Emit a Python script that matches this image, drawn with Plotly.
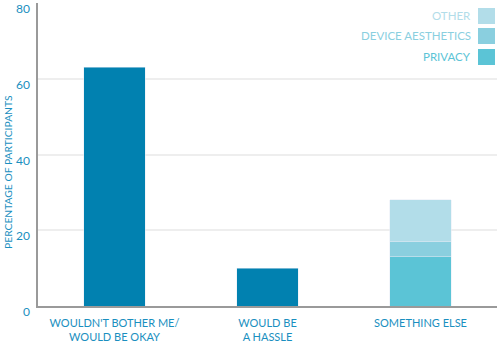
import plotly.graph_objects as go

categories = ["WOULDN'T BOTHER ME/<br>WOULD BE OKAY", "WOULD BE<br>A HASSLE", "SOMETHING ELSE"]
main_values = [63, 10, None]
privacy = [None, None, 13]
device_aesthetics = [None, None, 4]
other = [None, None, 11]
y_ticks = [0, 20, 40, 60, 80]

MAIN = "#0181b0"
C_PRIV = "#5bc4d6"
C_DEV = "#8acfdf"
C_OTH = "#b2dde9"
TXT = "#1a8fc0"
FONT = "Lato"

L, R, T, B = 38, 3, 3, 49
W, Hh = 500, 355
PW = W - L - R
PH = Hh - T - B


def px_x(x):
    return (x - L) / PW


def px_y(y):
    return 1 - (y - T) / PH


fig = go.Figure()
fig.add_bar(x=categories, y=main_values, marker_color=MAIN, name="main", showlegend=False)
fig.add_bar(x=categories, y=privacy, marker_color=C_PRIV, name="PRIVACY", showlegend=False)
fig.add_bar(x=categories, y=device_aesthetics, marker_color=C_DEV, name="DEVICE AESTHETICS", showlegend=False)
fig.add_bar(x=categories, y=other, marker_color=C_OTH, name="OTHER", showlegend=False)

# custom legend (text left of swatch)
legend_items = [("OTHER", C_OTH, 8), ("DEVICE AESTHETICS", C_DEV, 28), ("PRIVACY", C_PRIV, 49)]
for name, col, top in legend_items:
    fig.add_annotation(x=px_x(473), xref="paper", y=px_y(top + 8), yref="paper", text=name,
                       showarrow=False, xanchor="right", yanchor="middle",
                       font=dict(family=FONT, size=11.5, color=col))
    fig.add_shape(type="rect", xref="paper", yref="paper",
                  x0=px_x(478), x1=px_x(495), y0=px_y(top), y1=px_y(top + 16),
                  fillcolor=col, line=dict(width=0))

# y-axis title
fig.add_annotation(x=px_x(8), xref="paper", y=px_y(172), yref="paper", text="PERCENTAGE OF PARTICIPANTS",
                   textangle=-90, showarrow=False, xanchor="center", yanchor="middle",
                   font=dict(family=FONT, size=10.3, color=TXT))

fig.update_layout(
    barmode="stack",
    bargap=0.595,
    width=W, height=Hh,
    margin=dict(l=L, r=R, t=T, b=B),
    plot_bgcolor="white", paper_bgcolor="white",
    font=dict(family=FONT, color=TXT, size=11),
    xaxis=dict(showline=True, linecolor="#9a9a9a", linewidth=1.5, tickfont=dict(size=11, color=TXT),
               ticks="", range=[-0.5, 2.5], automargin=False, ticklabelstandoff=6),
    yaxis=dict(range=[0, 80], tickvals=y_ticks, showgrid=True, gridcolor="#eeeeee", gridwidth=1.5,
               showline=True, linecolor="#9a9a9a", linewidth=1.5, zeroline=False,
               tickfont=dict(size=12, color=TXT), ticklabelstandoff=4, ticklabelshift=6,
               ticklabeloverflow="allow", automargin=False),
)
fig.write_html("out.html")
